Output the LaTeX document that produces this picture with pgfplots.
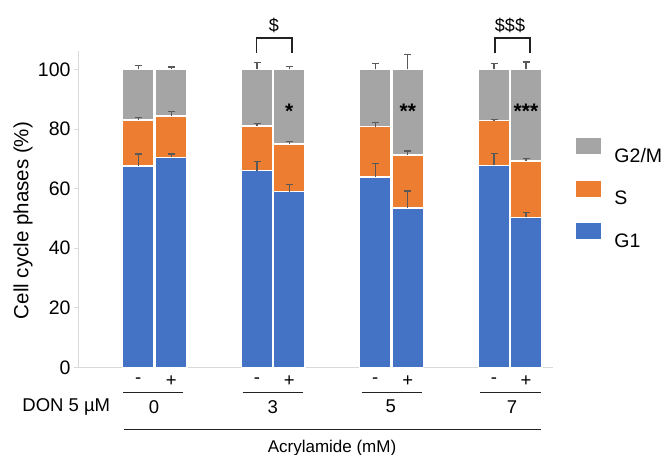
\documentclass[border=0pt]{standalone}
\usepackage{fontspec}
\setmainfont{Liberation Sans}
\usepackage{pgfplots}
\pgfplotsset{compat=1.18}
\definecolor{cGray}{HTML}{A5A5A5}
\definecolor{cOrange}{HTML}{ED7D31}
\definecolor{cBlue}{HTML}{4472C4}
\definecolor{cErr}{HTML}{595959}
\definecolor{cAxis}{HTML}{D9D9D9}
\definecolor{cLine}{HTML}{222222}
\newcommand{\fsTick}{\fontsize{19.5bp}{23bp}\selectfont}
\newcommand{\fsLab}{\fontsize{20.5bp}{25bp}\selectfont}
\newcommand{\fsSmall}{\fontsize{18.5bp}{22bp}\selectfont}
\newcommand{\fsAcr}{\fontsize{17bp}{20bp}\selectfont}
\newcommand{\fsStar}{\fontsize{21bp}{24bp}\selectfont\bfseries}
\pgfplotsset{
  errstyle/.style={error bars/.cd, y dir=plus, y explicit,
    error bar style={cErr, line width=1.2bp},
    error mark options={cErr, line width=1.2bp, mark size=3.5bp, rotate=90}},
}
\begin{document}
\begin{tikzpicture}
\useasboundingbox (-78bp,-87.5bp) rectangle (589bp,367.5bp);
\begin{axis}[
  scale only axis, width=475bp, height=316bp,
  xmin=0, xmax=475, ymin=0, ymax=106,
  axis x line*=bottom, axis y line*=left,
  axis line style={cAxis, line width=1bp},
  xtick=\empty,
  ytick={0,20,40,60,80,100},
  ytick style={cAxis, line width=1bp},
  tick align=outside, major tick length=4bp,
  yticklabel style={font=\fsTick, /pgf/number format/assume math mode=true},
  ylabel={Cell cycle phases (\%)},
  ylabel style={at={(axis description cs:-0.1158,0.4653)}, anchor=center, font=\fsLab},
  clip=false,
  legend style={at={(axis description cs:1.0484,0.7253)}, anchor=north west,
    draw=none, fill=none, inner sep=0pt, outer sep=0pt,
    row sep=18.5bp, column sep=13bp,
    nodes={inner sep=0pt, text height=16bp, text depth=0pt, font=\fsTick}},
  legend cell align=left,
  legend image code/.code={\fill[#1, draw=none] (0bp,0bp) rectangle (25.5bp,16bp);},
]
% G2/M (top = 100)
\addplot[ybar, bar width=31.5, bar shift=0pt, fill=cGray, draw=white, line width=1.5bp, errstyle]
coordinates {
 (60.3,100) +- (0,1.4)
 (93.2,100) +- (0,0.8)
 (179,100) +- (0,2.3)
 (211.2,100) +- (0,1.0)
 (297.3,100) +- (0,1.9)
 (329.8,100) +- (0,5.1)
 (416,100) +- (0,2.1)
 (448,100) +- (0,2.5)
};
\addlegendentry{G2/M}
% S (cumulative top)
\addplot[ybar, bar width=31.5, bar shift=0pt, fill=cOrange, draw=white, line width=1.5bp, errstyle]
coordinates {
 (60.3,83.0) +- (0,0.9)
 (93.2,84.3) +- (0,1.7)
 (179,81.0) +- (0,0.8)
 (211.2,75.0) +- (0,0.7)
 (297.3,80.8) +- (0,1.4)
 (329.8,71.2) +- (0,1.4)
 (416,82.8) +- (0,0.3)
 (448,69.2) +- (0,0.8)
};
\addlegendentry{S}
% G1
\addplot[ybar, bar width=31.5, bar shift=0pt, fill=cBlue, draw=white, line width=1.5bp, errstyle]
coordinates {
 (60.3,67.6) +- (0,4.0)
 (93.2,70.5) +- (0,1.1)
 (179,66.0) +- (0,3.0)
 (211.2,59.0) +- (0,2.4)
 (297.3,63.9) +- (0,4.5)
 (329.8,53.5) +- (0,5.7)
 (416,67.8) +- (0,3.9)
 (448,50.4) +- (0,1.6)
};
\addlegendentry{G1}

% significance stars
\node[anchor=base, font=\fsStar] at (axis cs:211.2,83.4) {*};
\node[anchor=base, font=\fsStar] at (axis cs:329.8,83.4) {**};
\node[anchor=base, font=\fsStar] at (axis cs:448,83.4) {***};

% brackets
\draw[cLine, line width=1.5bp] (axis cs:178.5,105.6) -- (axis cs:178.5,110.5) -- (axis cs:214,110.5) -- (axis cs:214,105.6);
\draw[cLine, line width=1.5bp] (axis cs:417,105.6) -- (axis cs:417,110.5) -- (axis cs:452,110.5) -- (axis cs:452,105.6);
\node[font=\fontsize{18bp}{21bp}\selectfont] at (axis cs:196,114.9) {\$};
\node[font=\fontsize{18bp}{21bp}\selectfont] at (axis cs:432,114.9) {\$\$\$};

% DON -/+ labels
\node[font=\fsSmall] at (axis cs:60.3,-4.5) {-};
\node[font=\fsSmall] at (axis cs:93.2,-4.5) {+};
\node[font=\fsSmall] at (axis cs:179,-4.5) {-};
\node[font=\fsSmall] at (axis cs:211.2,-4.5) {+};
\node[font=\fsSmall] at (axis cs:297.3,-4.5) {-};
\node[font=\fsSmall] at (axis cs:329.8,-4.5) {+};
\node[font=\fsSmall] at (axis cs:416,-4.5) {-};
\node[font=\fsSmall] at (axis cs:448,-4.5) {+};
% group lines
\draw[cLine, line width=1.3bp] (axis cs:45.3,-8.46) -- (axis cs:105.3,-8.46);
\draw[cLine, line width=1.3bp] (axis cs:164.7,-8.46) -- (axis cs:225.3,-8.46);
\draw[cLine, line width=1.3bp] (axis cs:283.7,-8.46) -- (axis cs:344,-8.46);
\draw[cLine, line width=1.3bp] (axis cs:402.3,-8.46) -- (axis cs:463,-8.46);
% group numbers
\node[font=\fsSmall] at (axis cs:76,-13.15) {0};
\node[font=\fsSmall] at (axis cs:194.7,-13.15) {3};
\node[font=\fsSmall] at (axis cs:312.7,-13.15) {5};
\node[font=\fsSmall] at (axis cs:434,-13.15) {7};
\node[font=\fsSmall] at (axis cs:-11.7,-13.15) {DON 5 µM};
% long line
\draw[cLine, line width=1.3bp] (axis cs:46,-20.7) -- (axis cs:463,-20.7);
\node[font=\fsAcr] at (axis cs:254,-27.0) {Acrylamide (mM)};
\end{axis}
\end{tikzpicture}
\end{document}
